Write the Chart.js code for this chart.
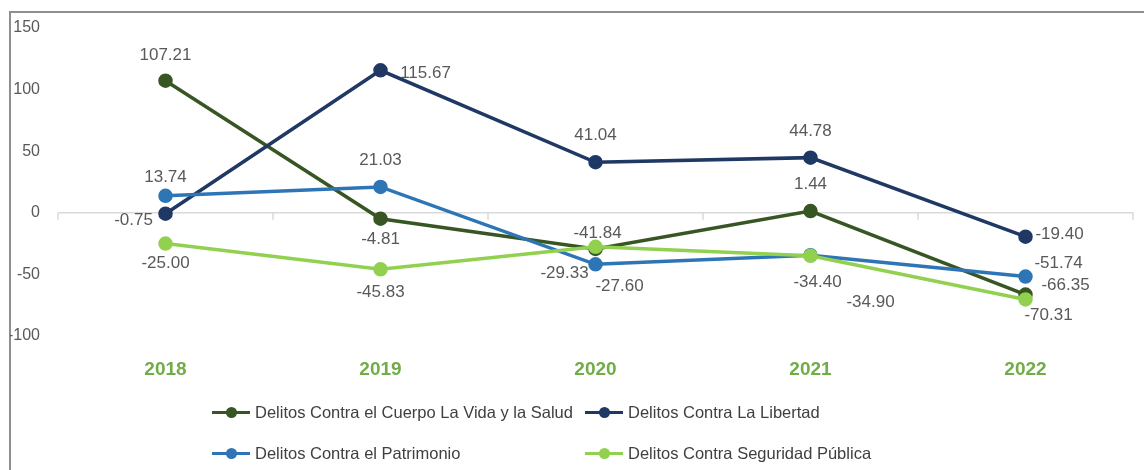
<!DOCTYPE html>
<html>
<head>
<meta charset="utf-8">
<script src="https://cdn.jsdelivr.net/npm/chart.js@4.4.1/dist/chart.umd.min.js"></script>
<style>
    body { margin: 0; background: #ffffff; }
    .marco { position: absolute; left: 9px; top: 11px; width: 1200px; height: 500px;
             border-left: 2px solid #8f8f8f; border-top: 2px solid #8f8f8f; }
    #grafico { position: absolute; left: 0; top: 0; }
    .leyenda { position: absolute; left: 212px; top: 400px; display: grid;
               grid-template-columns: 373px 300px; row-gap: 17px;
               font-family: "Liberation Sans", Arial, sans-serif; font-size: 16.5px; color: #404040; }
    .item { display: flex; align-items: center; height: 24px; white-space: nowrap; }
    .simbolo { position: relative; width: 38px; height: 3px; margin-right: 5px; }
    .simbolo span { position: absolute; left: 14px; top: -4px; width: 11px; height: 11px; border-radius: 50%; }
</style>
</head>
<body>
<div class="marco"></div>
<canvas id="grafico" width="1144" height="470"></canvas>
<div class="leyenda" id="leyenda"></div>
<script>
const anios = ['2018', '2019', '2020', '2021', '2022'];
const vidaSalud = [107.21, -4.81, -29.33, 1.44, -66.35];
const libertad = [-0.75, 115.67, 41.04, 44.78, -19.40];
const patrimonio = [13.74, 21.03, -41.84, -34.40, -51.74];
const seguridad = [-25.00, -45.83, -27.60, -34.90, -70.31];

// desplazamiento de cada etiqueta respecto al punto [dx, dy]
const posVida = [[0, -25], [0, 21], [-31, 24], [0, -27], [40, -9]];
const posLibertad = [[-32, 7], [45, 3], [0, -27], [0, -26], [34, -2]];
const posPatrimonio = [[0, -19], [0, -27], [2, -31], [7, 27], [33, -13]];
const posSeguridad = [[0, 20], [0, 23], [24, 40], [60, 47], [23, 16]];

const series = [
    { label: 'Delitos Contra el Cuerpo La Vida y la Salud', data: vidaSalud, color: '#375623', pos: posVida, order: 4 },
    { label: 'Delitos Contra La Libertad', data: libertad, color: '#203864', pos: posLibertad, order: 3 },
    { label: 'Delitos Contra el Patrimonio', data: patrimonio, color: '#2e75b6', pos: posPatrimonio, order: 2 },
    { label: 'Delitos Contra Seguridad Pública', data: seguridad, color: '#92d050', pos: posSeguridad, order: 1 }
];

const ejeCero = {
    id: 'ejeCero',
    beforeDatasetsDraw(chart) {
        const { ctx, chartArea, scales } = chart;
        const y0 = scales.y.getPixelForValue(0);
        ctx.save();
        ctx.strokeStyle = '#d9d9d9';
        ctx.lineWidth = 1.5;
        ctx.beginPath();
        ctx.moveTo(chartArea.left, y0);
        ctx.lineTo(chartArea.right, y0);
        const n = anios.length;
        for (let i = 0; i <= n; i++) {
            let x;
            if (i === 0) x = chartArea.left;
            else if (i === n) x = chartArea.right;
            else x = (scales.x.getPixelForValue(i - 1) + scales.x.getPixelForValue(i)) / 2;
            ctx.moveTo(x, y0);
            ctx.lineTo(x, y0 + 7);
        }
        ctx.stroke();
        ctx.restore();
    }
};

const etiquetas = {
    id: 'etiquetas',
    afterDatasetsDraw(chart) {
        const ctx = chart.ctx;
        ctx.save();
        ctx.font = '17px "Liberation Sans", Arial, sans-serif';
        ctx.fillStyle = '#595959';
        ctx.textAlign = 'center';
        ctx.textBaseline = 'middle';
        chart.data.datasets.forEach((ds, d) => {
            const meta = chart.getDatasetMeta(d);
            meta.data.forEach((pt, i) => {
                const off = series[d].pos[i];
                ctx.fillText(ds.data[i].toFixed(2), pt.x + off[0], pt.y + off[1]);
            });
        });
        ctx.restore();
    }
};

const chart = new Chart(document.getElementById('grafico'), {
    type: 'line',
    data: {
        labels: anios,
        datasets: series.map(s => ({
            label: s.label,
            data: s.data,
            borderColor: s.color,
            backgroundColor: s.color,
            borderWidth: 3.5,
            pointRadius: 5.5,
            pointHoverRadius: 5.5,
            tension: 0,
            order: s.order
        }))
    },
    options: {
        responsive: false,
        animation: false,
        layout: { padding: { left: 10, right: 11, top: 28, bottom: 84 } },
        plugins: {
            legend: { display: false },
            tooltip: { enabled: false }
        },
        scales: {
            x: {
                offset: true,
                grid: { display: false },
                border: { display: false },
                ticks: {
                    color: '#70ad47',
                    padding: 14,
                    font: { family: '"Liberation Sans", Arial, sans-serif', size: 19, weight: 'bold' }
                },
                afterFit: scale => { scale.height = 50; }
            },
            y: {
                min: -100,
                max: 150,
                grid: { display: false, drawTicks: false },
                border: { display: false },
                ticks: {
                    stepSize: 50,
                    color: '#595959',
                    padding: 18,
                    font: { family: '"Liberation Sans", Arial, sans-serif', size: 16 }
                },
                afterFit: scale => { scale.width = 48; }
            }
        }
    },
    plugins: [ejeCero, etiquetas]
});

// leyenda en dos columnas
const leyenda = document.getElementById('leyenda');
series.forEach(s => {
    const item = document.createElement('div');
    item.className = 'item';
    item.innerHTML = '<div class="simbolo" style="background:' + s.color + '"><span style="background:' + s.color + '"></span></div>' + s.label;
    leyenda.appendChild(item);
});
</script>
</body>
</html>
